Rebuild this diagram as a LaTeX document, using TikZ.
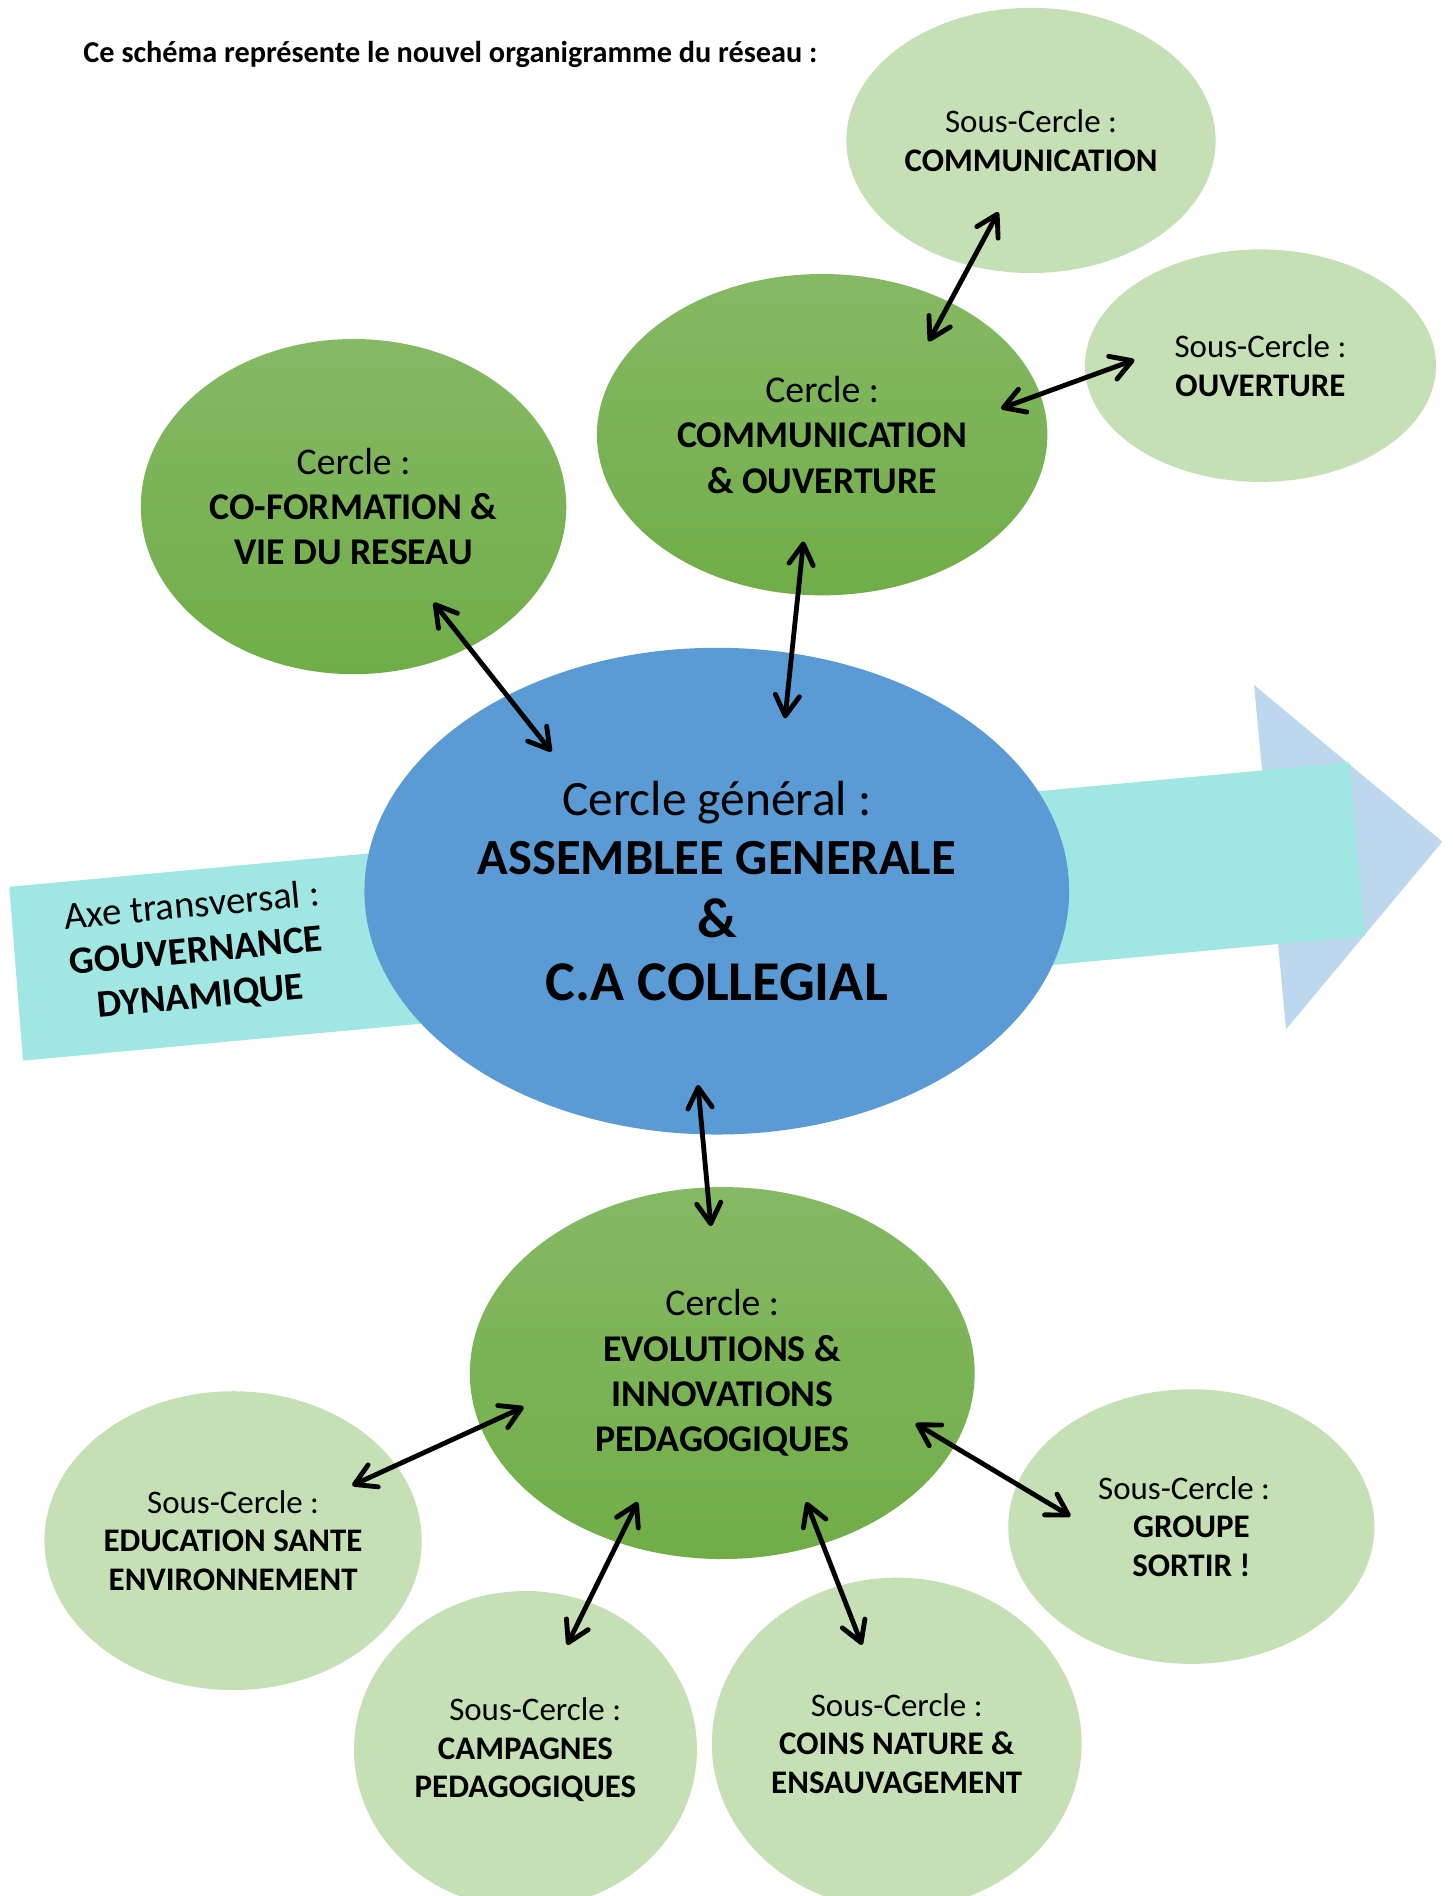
\documentclass[tikz,border=0pt]{standalone}
\usepackage{fontspec}
\setmainfont{Carlito}
\usetikzlibrary{shapes.geometric,arrows.meta}
\definecolor{lightgreen}{HTML}{C5E0B4}
\definecolor{greentop}{HTML}{85B964}
\definecolor{greenbot}{HTML}{70AD47}
\definecolor{mainblue}{HTML}{5B9BD5}
\definecolor{bandcyan}{HTML}{A0E6E3}
\definecolor{tipblue}{HTML}{BDD7EE}
\begin{document}
\begin{tikzpicture}[x=0.5pt,y=-0.5pt,
  subcircle/.style={ellipse, fill=lightgreen, inner sep=0pt, outer sep=0pt, align=center,
    font=\fontsize{13.6}{16}\selectfont},
  circlebox/.style={ellipse, top color=greentop, bottom color=greenbot, inner sep=0pt, outer sep=0pt,
    align=center, font=\fontsize{15.6}{18.75}\selectfont},
  link/.style={line width=2pt,
    {Straight Barb[round,length=8.5pt,width=10pt]}-{Straight Barb[round,length=8.5pt,width=10pt]}}
]
\useasboundingbox (0,0) rectangle (1200,1565.9);

% transversal axis arrow
\fill[tipblue] (1035.7,565.7) -- (1191.2,695.1) -- (1062.1,850.1) -- cycle;
\fill[bandcyan] (7.7,732.4) -- (1114.4,629.6) -- (1127.4,773) -- (19,876) -- cycle;
\node[rotate=5.3, align=center, inner sep=0pt, font=\fontsize{16}{18.8}\selectfont] (axe) at (162,786)
  {Axe transversal :\\\textbf{GOUVERNANCE}\\\textbf{DYNAMIQUE}};

% title
\node[anchor=base west, inner sep=0pt, font=\bfseries\fontsize{12.5}{15}\selectfont] (title) at (68.5,51.6)
  {Ce schéma représente le nouvel organigramme du réseau :};

% central circle
\node[ellipse, fill=mainblue, minimum width=291pt, minimum height=201pt, inner sep=0pt, outer sep=0pt,
  align=center, font=\fontsize{20.4}{26}\selectfont] (ag) at (592,736)
  {Cercle général :\\[-1.5pt]{\bfseries\fontsize{20.9}{26}\selectfont ASSEMBLEE GENERALE}\\
   {\bfseries\fontsize{23.2}{26}\selectfont\&}\\{\bfseries\fontsize{23.2}{26}\selectfont C.A COLLEGIAL}};

% circles
\node[circlebox, minimum width=186pt, minimum height=132.7pt] (comouv) at (679,359)
  {Cercle :\\\textbf{COMMUNICATION}\\\textbf{\& OUVERTURE}};
\node[circlebox, minimum width=175.7pt, minimum height=138.4pt] (coform) at (292,418.4)
  {Cercle :\\\textbf{CO-FORMATION \&}\\\textbf{VIE DU RESEAU}};
\node[circlebox, minimum width=208.5pt, minimum height=153.6pt] (evol) at (596.5,1134)
  {Cercle :\\\textbf{EVOLUTIONS \&}\\\textbf{INNOVATIONS}\\\textbf{PEDAGOGIQUES}};

% sub-circles
\node[subcircle, minimum width=152.5pt, minimum height=109.5pt] (scom) at (851.5,116)
  {Sous-Cercle :\\\textbf{COMMUNICATION}};
\node[subcircle, minimum width=145pt, minimum height=96pt] (souv) at (1041,302)
  {Sous-Cercle :\\\textbf{OUVERTURE}};
\node[subcircle, minimum width=155.8pt, minimum height=123.4pt] (sedu) at (192.5,1272.4)
  {Sous-Cercle :\\\textbf{EDUCATION SANTE}\\\textbf{ENVIRONNEMENT}};
\node[subcircle, minimum width=141.6pt, minimum height=131pt] (scamp) at (434,1445)
  {\hspace*{8pt}Sous-Cercle :\\\textbf{CAMPAGNES}\\\textbf{PEDAGOGIQUES}};
\node[subcircle, minimum width=152.7pt, minimum height=137pt] (scoin) at (740.6,1440)
  {Sous-Cercle :\\\textbf{COINS NATURE \&}\\\textbf{ENSAUVAGEMENT}};
\node[subcircle, minimum width=151.2pt, minimum height=113.4pt] (sgrp) at (983.9,1260.8)
  {Sous-Cercle :\hspace*{6pt}\\\textbf{GROUPE}\\\textbf{SORTIR !}};

% connector end points
\coordinate (a1s) at (824.5,175.2);  \coordinate (a1e) at (767,282);
\coordinate (a2s) at (826.7,337.4);  \coordinate (a2e) at (936.9,297.2);
\coordinate (a3s) at (358.2,497.8);  \coordinate (a3e) at (455.4,620.8);
\coordinate (a4s) at (663.6,447.2);  \coordinate (a4e) at (648.3,593.3);
\coordinate (a5s) at (576.4,896.1);  \coordinate (a5e) at (587.1,1012.6);
\coordinate (a6s) at (432.5,1162);   \coordinate (a6e) at (290.9,1226.8);
\coordinate (a7s) at (526.6,1240.5); \coordinate (a7e) at (468.4,1358.5);
\coordinate (a8s) at (665.9,1240.5); \coordinate (a8e) at (711.9,1358.5);
\coordinate (a9s) at (756.3,1175.7); \coordinate (a9e) at (884.1,1252.3);

\draw[link] (a1s) -- (a1e);
\draw[link] (a2s) -- (a2e);
\draw[link] (a3s) -- (a3e);
\draw[link] (a4s) -- (a4e);
\draw[link] (a5s) -- (a5e);
\draw[link] (a6s) -- (a6e);
\draw[link] (a7s) -- (a7e);
\draw[link] (a8s) -- (a8e);
\draw[link] (a9s) -- (a9e);
\end{tikzpicture}
\end{document}
